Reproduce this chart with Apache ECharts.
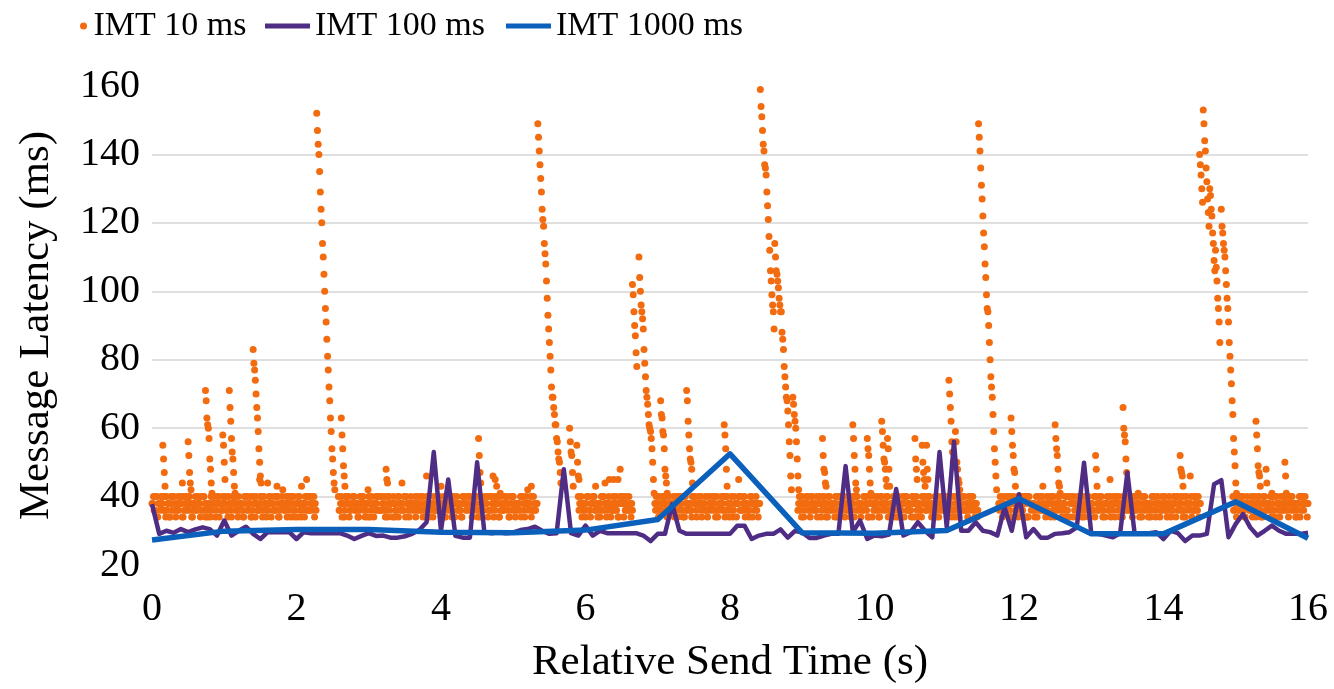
<!DOCTYPE html>
<html>
<head>
<meta charset="utf-8">
<script src="https://cdn.jsdelivr.net/npm/echarts@6.0.0/dist/echarts.min.js"></script>
<style>
  html, body { margin: 0; padding: 0; background: #fff; }
  #chart { width: 1334px; height: 689px; }
</style>
</head>
<body>
<div id="chart"></div>
<script>
// IMT 1000 ms : one value per second (t = 0..16)
const imt1000 = [27.3, 29.9, 30.4, 30.4, 29.6, 29.4, 30.2, 33.3, 52.5, 29.4, 29.3, 30.1, 39.4, 29.1, 29.1, 38.5, 27.8];

// IMT 100 ms : one value per 0.1 s (t = 0.0..16.0)
const imt100 = [
  37.8, 29.1, 30.0, 29.4, 30.5, 29.6, 30.4, 31.0, 30.5, 28.6,
  33.0, 28.6, 30.0, 31.2, 29.1, 27.6, 29.6, 29.6, 29.6, 29.6,
  27.6, 29.6, 29.3, 29.3, 29.3, 29.3, 29.3, 28.6, 27.6, 28.5,
  29.3, 28.5, 28.6, 28.0, 28.0, 28.4, 29.1, 30.2, 32.5, 53.0,
  30.0, 45.0, 28.5, 28.0, 28.0, 50.0, 29.6, 29.3, 29.6, 29.3,
  29.5, 30.2, 30.5, 31.2, 30.0, 29.1, 29.3, 48.0, 29.3, 28.6,
  31.5, 28.6, 30.0, 29.3, 29.3, 29.3, 29.3, 29.3, 28.6, 27.0,
  29.1, 29.1, 37.8, 30.0, 29.1, 29.1, 29.1, 29.1, 29.1, 29.1,
  29.1, 31.5, 31.5, 27.6, 28.6, 29.1, 29.1, 30.4, 28.0, 30.0,
  29.5, 27.9, 27.9, 28.6, 29.1, 29.1, 48.9, 29.6, 33.0, 27.6,
  28.6, 28.4, 28.9, 42.2, 28.6, 29.6, 32.5, 30.0, 28.1, 53.0,
  31.0, 56.0, 30.0, 30.0, 32.5, 30.0, 29.6, 28.6, 36.8, 30.0,
  40.7, 28.1, 30.5, 28.0, 28.0, 29.1, 29.3, 29.6, 31.0, 49.9,
  29.3, 29.1, 28.6, 28.1, 29.3, 47.0, 29.3, 29.3, 29.3, 29.6,
  27.6, 30.0, 29.3, 27.0, 28.6, 28.6, 29.1, 43.6, 44.8, 28.1,
  32.0, 34.9, 31.0, 28.6, 30.0, 31.5, 30.0, 29.1, 29.1, 29.1,
  29.4
];

// IMT 10 ms : quiet band between bursts (even 10 ms slots), every 20 ms from bandStart
const bandStart = [0.00, 2.58, 5.90, 6.96, 8.94, 11.72, 14.96];
const bandValues = [
  [38,40,36,40,34,38,40,38,36,40, 40,38,34,40,36,40,38,36,40,38, 40,34,40,38,36,40,40,38,34,38,
   40,36,40,38,36,40,40,34,38,38, 36,40,38,40,34,38,40,38,36,40, 38,40,36,40,38,34,40,38,40,36,
   40,38,38,34,40,40,36,38,40,34, 40,38,40,36,38,40,40,36,38,34, 38,40,40,38,36,36,40,40,34,38,
   40,38,36,40,38,40,34,38,40,36, 38,40,40,34,38,38,40,36,40,36, 40,38,40,38],
  [40,36,40,38,34,40,38,40,36,38, 40,40,36,38,34,40,38,40,38,36, 38,40,34,40,38,38,40,36,40,36,
   40,38,40,36,34,40,38,38,40,34, 38,40,40,38,36,36,40,40,38,34, 40,36,38,40,38,40,36,38,40,36,
   38,40,40,34,38,38,40,36,36,40, 40,38,38,40,34,40,36,38,40,36, 40,38,40,36,38,34,40,40,38,36,
   40,40,36,38,38,40,36,40,34,38, 38,40,38,40,36,36,40,38,40,38, 40,34,40,38,36,40,38,38,34,40,
   40,40,36,38,36,38,40,40,38,34, 40,38,38,40,36,40,36,38],
  [40,38,40,36,38,34,40,40,36,38, 40,40,36,38,38,34,40,40,36,38, 38,40,38,36,40,36,40,38,34,40,
   38,40,38,40,36,40,36,38],
  [38,40,36,40,36,38,40,38,40,34, 40,38,36,40,38,40,34,38,40,36, 40,40,36,38,38,36,40,40,38,34,
   40,38,40,38,36,40,36,40,38,38, 38,40,34,40,36,38,40,38,36,40, 40,36,38,40,34,40,38,38,40,36,
   40,38,40,36,38,34,40,40,38,36, 40,38,38],
  [36,40,38,40,34,38,40,38,36,40, 40,38,36,40,38,40,34,38,40,36, 38,40,40,36,38,38,40,34,40,36,
   40,38,40,38,36,40,36,38,40,34, 40,40,36,38,38,36,40,40,38,34, 40,38,38,40,36,40,34,38,40,38,
   38,40,40,36,36,38,40,38,40,34, 40,36,38,40,38,40,36,38,36,40, 40,38,40,34,38,36,40,40,38,36,
   40,40,36,38,38,40,34,40,38,36, 38,40,38,40,36,38,40,36,40,34, 40,38,38,40,36,40,36,38,40,38,
   40,40,36,38,34],
  [38,40,38,40,36,36,40,38,40,34, 40,38,36,40,38,40,36,38,40,34, 40,40,38,38,36,34,40,40,38,36,
   40,36,38,40,38,40,34,38,40,36, 38,40,40,36,38,38,40,36,40,34, 40,38,40,38,36,40,36,38,40,34,
   40,38,40,36,38,36,40,40,38,36, 40,40,34,38,38,40,36,40,38,36, 38,40,38,40,34,38,40,36,40,38,
   40,36,38,40,36,40,38,38,40,34, 40,40,36,38,38,34,40,40,38,36, 40,38,36,40,38,40,36,38,40,34,
   38,40,38,40,36,38,40,36,40,34, 40,38,38,40,36,40,36,38,40,38],
  [40,36,40,38,36,40,38,40,34,38, 40,38,36,40,38,40,34,38,40,36, 38,40,40,36,38,38,40,36,40,34,
   40,38,38,40,36,40,36,38,40,38, 40,40,36,38,34,38,40,40,38,36, 40,38,38]
];

// IMT 10 ms : quiet band (odd 10 ms slots), every 20 ms from bandStartB
const bandStartB = [0.01, 2.59, 5.91, 6.97, 8.95, 11.73, 14.97];
const bandValuesB = [
  [38,36,40,34,38,36,38,40,36,34, 36,38,34,38,40,36,34,38,36,38, 38,34,36,40,38,36,38,34,36,38,
   36,38,38,34,40,36,38,36,34,38, 34,36,38,38,36,40,34,38,36,38, 38,36,34,38,36,38,40,36,38,34,
   36,38,36,34,38,40,36,38,34,36, 38,34,38,36,36,38,34,40,38,36, 36,38,34,38,40,36,38,34,36,38,
   38,36,38,34,36,38,40,36,34,38, 34,38,36,38,36,34,38,40,36,38, 36,38,34,36],
  [36,38,34,38,36,40,38,34,36,38, 38,36,38,34,36,38,40,36,34,38, 34,38,36,38,34,36,38,40,36,36,
   38,36,34,38,40,36,38,34,38,36, 36,34,38,36,38,40,34,38,36,38, 38,38,36,34,36,38,36,40,34,38,
   36,34,38,38,36,34,38,36,40,36, 38,36,36,34,38,38,40,36,34,38, 34,38,36,38,36,34,38,38,36,40,
   38,36,34,36,38,38,34,36,38,36, 36,38,38,34,40,36,38,34,36,38, 38,34,36,38,36,38,40,36,34,38,
   36,38,34,38,38,36,34,40,36,38, 38,36,38,34,36,38,36,38],
  [36,38,34,38,36,38,40,36,34,38, 38,36,38,34,36,38,36,40,38,34, 36,38,34,36,38,38,36,34,38,40,
   38,34,36,38,36,38,34,36],
  [36,38,34,38,36,40,38,36,34,38, 38,36,38,34,36,38,40,36,38,34, 34,38,36,38,36,34,38,40,36,38,
   38,36,34,38,38,36,34,38,36,40, 36,38,36,34,38,38,36,40,34,36, 38,34,38,36,36,38,34,38,40,36,
   36,38,34,38,36,36,38,34,38,38, 36,34,38],
  [38,36,34,38,36,38,40,36,34,38, 36,38,36,34,38,38,36,40,38,34, 34,36,38,38,36,34,38,36,40,38,
   38,36,34,38,36,38,34,36,38,40, 36,38,38,34,36,40,38,36,34,38, 38,34,36,38,38,36,34,40,36,38,
   36,38,34,36,38,38,36,34,38,36, 38,36,38,34,40,36,38,36,34,38, 34,38,36,38,36,34,38,40,36,38,
   38,36,34,38,36,38,36,34,38,40, 36,38,38,34,36,38,34,36,38,36, 38,34,36,38,40,36,38,34,36,38,
   36,38,34,38,36],
  [36,38,34,38,36,40,38,36,34,38, 38,36,38,34,36,38,36,40,38,34, 34,38,36,38,38,36,34,38,36,40,
   38,36,34,36,38,38,40,36,34,38, 36,38,38,34,36,38,34,36,40,38, 38,34,36,38,36,40,38,34,36,38,
   36,38,34,38,38,36,34,40,36,38, 38,36,36,34,38,38,36,34,38,40, 34,38,36,38,36,34,38,38,36,36,
   38,36,34,38,40,36,38,34,36,38, 36,38,38,34,36,38,36,40,34,38, 38,34,36,38,36,38,34,36,38,36,
   36,38,34,40,38,36,38,34,36,38, 38,36,38,34,36,38,40,36,34,38],
  [36,38,34,38,36,40,38,36,34,38, 38,36,38,34,36,38,36,40,38,34, 34,38,36,38,38,36,34,38,36,40,
   38,36,34,36,38,38,40,36,34,38, 36,38,38,34,36,38,34,36,40,38, 38,34,36]
];

// IMT 10 ms : latency bursts, one value per 10 ms from burstStart
const burstStart = [
  0.15, 0.42, 0.50, 0.74, 0.98, 1.07, 1.40, 2.28, 2.62, 3.24,
  4.52, 5.34, 5.78, 5.88, 6.65, 6.74, 7.04, 7.40, 7.92, 8.42,
  8.55, 8.62, 8.87, 9.28, 9.70, 9.90, 10.10, 10.18, 10.56, 10.66,
  10.72, 11.03, 11.12, 11.44, 11.89, 12.50, 13.06, 13.44, 14.23, 14.50,
  14.55, 14.80, 15.28, 15.42, 15.68
];
const burstValues = [
  [55, 51, 47, 43],
  [44],
  [56, 52, 47, 44, 42],
  [71, 68, 63, 61, 60, 57, 51, 48, 44, 41],
  [58, 55, 50, 45],
  [71, 66, 62, 57, 53, 51, 47, 43, 41],
  [83, 79, 77, 74, 70, 66, 63, 59, 54, 50, 46, 44],
  [152, 147, 143, 140, 135, 129, 124, 120, 114, 110, 105, 100, 95, 91, 86, 81, 77, 72, 68, 63, 59, 54, 51, 47, 44, 42],
  [63, 58, 54, 49, 46, 43],
  [48, 45, 44],
  [57, 52, 47, 44],
  [149, 145, 141, 137, 133, 129, 124, 121, 119, 114, 111, 108, 103, 98, 93, 89, 85, 81, 77, 72, 69, 69, 66, 64, 61, 61, 57, 56, 53, 51, 50, 47, 44],
  [60, 56, 53, 52, 47, 43],
  [55, 50, 46, 45],
  [102, 99, 94, 90, 87, 82, 78],
  [110, 104, 100, 96, 94, 92, 89, 83, 79, 75, 71, 69, 67, 64, 61, 60, 59, 57, 54, 50, 45, 41],
  [68, 64, 63, 59, 58, 54, 48, 46, 44, 41],
  [71, 68, 62, 58, 54, 51, 50, 48, 44],
  [61, 58, 54, 48, 43],
  [159, 154, 151, 147, 143, 141, 137, 136, 134, 129, 125, 121, 116],
  [112, 106, 103, 99, 96, 94, 89],
  [114, 110, 106, 105, 103, 101, 98, 96, 94, 94, 88, 86, 83, 78, 75, 72, 69, 68, 65, 61, 56, 52, 46, 42],
  [69, 67, 64, 62, 60, 56, 51, 46, 42],
  [57, 52, 48, 47, 44, 43],
  [61, 57, 52, 48, 44, 42],
  [57, 54, 52, 48, 44, 41],
  [62, 59, 55, 51, 50, 48, 45, 43],
  [57, 54, 48, 43],
  [57, 51, 48, 45],
  [55, 50, 47, 45, 43],
  [55, 48, 45],
  [74, 70, 66, 62, 56, 53, 50],
  [59, 56, 50, 48, 45, 44, 42],
  [149, 145, 141, 136, 131, 127, 122, 117, 113, 108, 104, 99, 95, 94, 90, 85, 80, 75, 72, 69, 64, 59, 54, 50, 46, 42],
  [63, 59, 55, 52, 48, 47, 43],
  [61, 57, 54, 52, 48, 44, 43, 41],
  [52, 48, 43],
  [66, 60, 58, 56, 51, 47],
  [52, 48, 47, 46, 43],
  [140, 137, 134, 130, 126],
  [153, 149, 144, 141, 136, 132, 127, 123, 119, 130, 128, 124, 122, 117, 114, 109, 106, 112, 107, 103, 98, 95, 91, 85],
  [124, 119, 117, 114, 112, 110, 106, 102, 98, 95, 91, 85, 81, 77, 73, 68, 64, 57, 53, 49, 44, 41],
  [62, 58, 54, 49, 47, 46, 43],
  [48, 44],
  [50, 46, 41]
];

// IMT 10 ms : single stray points [time s, latency ms]
const looseDots = [
  [1.49, 45], [1.60, 44], [1.73, 43], [1.81, 42], [2.07, 43], [2.14, 45], [2.99, 42], [3.46, 44],
  [3.80, 46], [4.00, 43], [4.72, 46], [4.75, 45], [4.77, 43], [4.82, 41], [5.20, 42], [5.25, 43],
  [6.14, 43], [6.27, 44], [6.33, 45], [6.39, 45], [6.45, 45], [6.48, 48], [8.12, 45], [12.33, 43],
  [13.26, 45], [13.65, 41], [14.37, 46], [15.50, 41]
];

const serif = "'Liberation Serif', 'Times New Roman', serif";
const textColor = '#000';

// turn (start, values, step) runs into [t, v] points
function runsToPoints(starts, values, step) {
  const pts = [];
  starts.forEach((s, k) => {
    values[k].forEach((v, i) => pts.push([+(s + i * step).toFixed(3), v]));
  });
  return pts;
}

const imt10Points = runsToPoints(bandStart, bandValues, 0.02)
  .concat(runsToPoints(bandStartB, bandValuesB, 0.02))
  .concat(runsToPoints(burstStart, burstValues, 0.01), looseDots);
const imt100Points = imt100.map((v, i) => [+(i * 0.1).toFixed(1), v]);
const imt1000Points = imt1000.map((v, i) => [i, v]);

const chart = echarts.init(document.getElementById('chart'), null, {renderer: 'canvas'});

const option = {
  animation: false,
  backgroundColor: '#fff',
  textStyle: {fontFamily: serif, color: textColor},
  legend: [
    {
      left: 80, top: 9, padding: 0,
      itemWidth: 10, itemHeight: 7, icon: 'circle',
      data: ['IMT 10 ms'],
      textStyle: {fontSize: 34, fontFamily: serif, color: textColor}
    },
    {
      left: 265, top: 9, padding: 0,
      itemWidth: 45, itemHeight: 5, icon: 'rect', itemGap: 21,
      data: ['IMT 100 ms', 'IMT 1000 ms'],
      textStyle: {fontSize: 34, fontFamily: serif, color: textColor}
    }
  ],
  grid: {left: 152, right: 26, top: 86, bottom: 121},
  xAxis: {
    type: 'value', min: 0, max: 16, interval: 2,
    name: 'Relative Send Time (s)', nameLocation: 'middle', nameGap: 76,
    nameTextStyle: {fontSize: 43, fontFamily: serif, color: textColor},
    axisLine: {show: false}, axisTick: {show: false}, splitLine: {show: false},
    axisLabel: {fontSize: 40, fontFamily: serif, color: textColor, margin: 24}
  },
  yAxis: {
    type: 'value', min: 20, max: 160, interval: 20,
    name: 'Message Latency (ms)', nameLocation: 'middle', nameGap: 94,
    nameTextStyle: {fontSize: 43, fontFamily: serif, color: textColor},
    axisLine: {show: false}, axisTick: {show: false},
    axisLabel: {fontSize: 40, fontFamily: serif, color: textColor, margin: 12},
    splitLine: {show: true, showMinLine: false, showMaxLine: false, lineStyle: {color: '#d4d4d4', width: 1.5}}
  },
  series: [
    {
      name: 'IMT 10 ms', type: 'scatter', data: imt10Points,
      symbol: 'circle', symbolSize: 7,
      itemStyle: {color: '#f26b0f', opacity: 1}
    },
    {
      name: 'IMT 100 ms', type: 'line', data: imt100Points,
      showSymbol: false, symbol: 'none',
      lineStyle: {color: '#4f2d84', width: 4.5, join: 'round'},
      itemStyle: {color: '#4f2d84'}
    },
    {
      name: 'IMT 1000 ms', type: 'line', data: imt1000Points,
      showSymbol: false, symbol: 'none',
      lineStyle: {color: '#0a60bb', width: 5.5, join: 'round'},
      itemStyle: {color: '#0a60bb'}
    }
  ]
};

chart.setOption(option);
</script>
</body>
</html>
